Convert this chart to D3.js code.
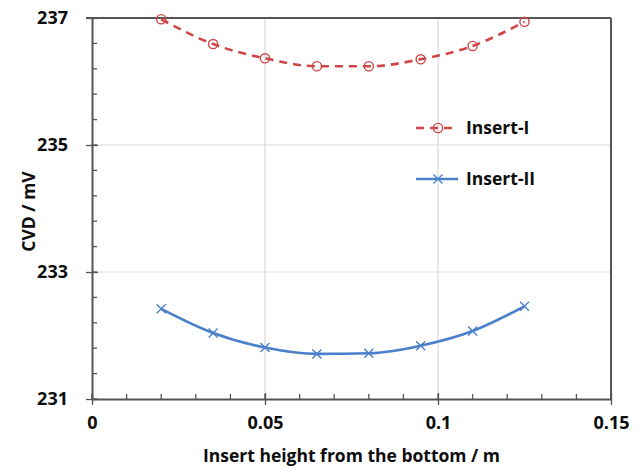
<!DOCTYPE html>
<html>
<head>
<meta charset="utf-8">
<script src="https://cdn.jsdelivr.net/npm/d3@7"></script>
<style>
  body { margin: 0; background: #fff; }
  text { font-family: "Open Sans", "Noto Sans", sans-serif; font-weight: 700; fill: #0d0d0d; }
</style>
</head>
<body>
<svg id="chart" width="643" height="469"></svg>
<script>
// data
const heights = [0.02, 0.035, 0.05, 0.065, 0.08, 0.095, 0.11, 0.125];
const insertI = [236.98, 236.59, 236.365, 236.24, 236.24, 236.35, 236.56, 236.94];
const insertII = [232.42, 232.04, 231.81, 231.71, 231.72, 231.84, 232.07, 232.46];
const xTicks = [0, 0.05, 0.1, 0.15];
const yTicks = [231, 233, 235, 237];
const seriesNames = ['Insert-I', 'Insert-II'];

const svg = d3.select('#chart');
const margin = { left: 92, top: 18, right: 32, bottom: 70 };
const width = 643 - margin.left - margin.right;
const height = 469 - margin.top - margin.bottom;

const x = d3.scaleLinear().domain([0, 0.15]).range([0, width]);
const y = d3.scaleLinear().domain([231, 237]).range([height, 0]);

const red = '#cf4646';
const blue = '#4a7fca';
const axisCol = '#555';

const g = svg.append('g').attr('transform', `translate(${margin.left},${margin.top})`);

// grid
g.append('g').selectAll('line')
  .data(xTicks.slice(1, -1))
  .join('line')
    .attr('x1', d => x(d)).attr('x2', d => x(d))
    .attr('y1', 0).attr('y2', height)
    .attr('stroke', '#d9d9d9').attr('stroke-width', 1.2);
g.append('g').selectAll('line')
  .data(yTicks.slice(1, -1))
  .join('line')
    .attr('y1', d => y(d)).attr('y2', d => y(d))
    .attr('x1', 0).attr('x2', width)
    .attr('stroke', '#d9d9d9').attr('stroke-width', 1.2);

// frame (top and right)
g.append('line').attr('x1', -6).attr('x2', width).attr('y1', 0).attr('y2', 0)
  .attr('stroke', axisCol).attr('stroke-width', 2);
g.append('line').attr('x1', width).attr('x2', width).attr('y1', 0).attr('y2', height)
  .attr('stroke', axisCol).attr('stroke-width', 2);

// minor ticks
g.append('g').selectAll('line')
  .data(d3.range(0, 0.1501, 0.01))
  .join('line')
    .attr('x1', d => x(d)).attr('x2', d => x(d))
    .attr('y1', height).attr('y2', height - 5)
    .attr('stroke', axisCol).attr('stroke-width', 1.3);
g.append('g').selectAll('line')
  .data(d3.range(231, 237.01, 0.4))
  .join('line')
    .attr('y1', d => y(d)).attr('y2', d => y(d))
    .attr('x1', 0).attr('x2', 5)
    .attr('stroke', axisCol).attr('stroke-width', 1.3);

// axes
const xAxis = g.append('g').attr('transform', `translate(0,${height})`)
  .call(d3.axisBottom(x).tickValues(xTicks).tickFormat(d3.format('~g')).tickSizeInner(6).tickSizeOuter(0).tickPadding(11));
const yAxis = g.append('g')
  .call(d3.axisLeft(y).tickValues(yTicks).tickFormat(d3.format('d')).tickSizeInner(6).tickSizeOuter(0).tickPadding(18));

[xAxis, yAxis].forEach(ax => {
  ax.select('.domain').attr('stroke', axisCol).attr('stroke-width', 2);
  ax.selectAll('.tick line').attr('stroke', axisCol).attr('stroke-width', 1.3);
  ax.selectAll('.tick text').attr('font-size', 18).attr('fill', '#0d0d0d')
    .attr('font-family', '"Open Sans", sans-serif').attr('font-weight', 700);
});
// major ticks cross the axis
xAxis.selectAll('.tick line').attr('y1', -6);
yAxis.selectAll('.tick line').attr('x1', 6);

// axis titles
svg.append('text')
  .attr('x', margin.left + width / 2).attr('y', 462)
  .attr('text-anchor', 'middle').attr('font-size', 17.5)
  .text('Insert height from the bottom / m');
svg.append('text')
  .attr('transform', `translate(35,${margin.top + height / 2 + 3}) rotate(-90)`)
  .attr('text-anchor', 'middle').attr('font-size', 17.5)
  .text('CVD / mV');

// lines
const line = d3.line().curve(d3.curveMonotoneX);
const ptsI = heights.map((h, i) => [x(h), y(insertI[i])]);
const ptsII = heights.map((h, i) => [x(h), y(insertII[i])]);

g.append('path').attr('d', line(ptsI))
  .attr('fill', 'none').attr('stroke', red).attr('stroke-width', 2.6)
  .attr('stroke-dasharray', '8,6');
g.append('path').attr('d', line(ptsII))
  .attr('fill', 'none').attr('stroke', blue).attr('stroke-width', 2.6);

// markers
g.append('g').selectAll('circle')
  .data(ptsI)
  .join('circle')
    .attr('cx', d => d[0]).attr('cy', d => d[1]).attr('r', 4.6)
    .attr('fill', 'none').attr('stroke', red).attr('stroke-width', 1.4);
g.append('g').selectAll('path')
  .data(ptsII)
  .join('path')
    .attr('d', d => `M${d[0] - 4.5},${d[1] - 4.5}L${d[0] + 4.5},${d[1] + 4.5}M${d[0] - 4.5},${d[1] + 4.5}L${d[0] + 4.5},${d[1] - 4.5}`)
    .attr('stroke', blue).attr('stroke-width', 1.4);

// legend
const legend = svg.append('g');
const legY = [128, 179];
seriesNames.forEach((name, i) => {
  const row = legend.append('g').attr('transform', `translate(0,${legY[i]})`);
  const col = i === 0 ? red : blue;
  row.append('line').attr('x1', 416).attr('x2', 458).attr('y1', 0).attr('y2', 0)
    .attr('stroke', col).attr('stroke-width', 2.6)
    .attr('stroke-dasharray', i === 0 ? '8,6' : null);
  if (i === 0) {
    row.append('circle').attr('cx', 438).attr('cy', 0).attr('r', 4.6)
      .attr('fill', 'none').attr('stroke', col).attr('stroke-width', 1.4);
  } else {
    row.append('path').attr('d', 'M433.5,-4.5L442.5,4.5M433.5,4.5L442.5,-4.5')
      .attr('stroke', col).attr('stroke-width', 1.4);
  }
  row.append('text').attr('x', 466).attr('y', 6).attr('font-size', 17.5).text(name);
});
</script>
</body>
</html>
